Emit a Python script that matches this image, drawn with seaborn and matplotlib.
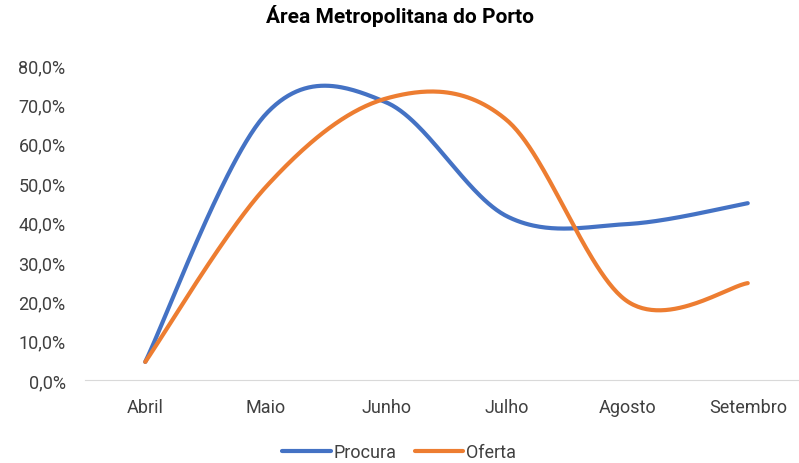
import numpy as np
import pandas as pd
import seaborn as sns
import matplotlib.pyplot as plt
from matplotlib.ticker import FuncFormatter

meses = ["Abril", "Maio", "Junho", "Julho", "Agosto", "Setembro"]
procura = [4.6, 67.5, 70.5, 41.6, 39.6, 44.9]
oferta = [4.6, 49.0, 71.5, 66.0, 20.0, 24.6]

cores = {"Procura": "#4472C4", "Oferta": "#ED7D31"}


def suavizar(valores, n=60):
    # curva suave tipo Excel (Catmull-Rom em Bezier)
    x = np.arange(len(valores), dtype=float)
    y = np.asarray(valores, dtype=float)
    px = np.concatenate([[x[0]], x, [x[-1]]])
    py = np.concatenate([[y[0]], y, [y[-1]]])
    xs, ys = [], []
    t = np.linspace(0, 1, n)
    for i in range(1, len(x)):
        p0 = np.array([px[i - 1], py[i - 1]])
        p1 = np.array([px[i], py[i]])
        p2 = np.array([px[i + 1], py[i + 1]])
        p3 = np.array([px[i + 2], py[i + 2]])
        c1 = p1 + (p2 - p0) / 6
        c2 = p2 - (p3 - p1) / 6
        b = (np.outer((1 - t) ** 3, p1) + np.outer(3 * t * (1 - t) ** 2, c1)
             + np.outer(3 * t ** 2 * (1 - t), c2) + np.outer(t ** 3, p2))
        xs.extend(b[:, 0])
        ys.extend(b[:, 1])
    return xs, ys


linhas = []
for nome, valores in [("Procura", procura), ("Oferta", oferta)]:
    xs, ys = suavizar(valores)
    linhas.append(pd.DataFrame({"x": xs, "y": ys, "serie": nome}))
df = pd.concat(linhas, ignore_index=True)

sns.set_style("white")
plt.rcParams["font.family"] = ["Roboto", "DejaVu Sans"]

fig = plt.figure(figsize=(7.99, 4.64), dpi=100)
ax = fig.add_axes([85 / 799, 1 - 381 / 464, 723 / 799, 315 / 464])

sns.lineplot(data=df, x="x", y="y", hue="serie", palette=cores, sort=False,
             estimator=None, linewidth=3, ax=ax, solid_capstyle="round")

ax.set_xlim(-0.5, 5.5)
ax.set_ylim(0, 80)
ax.set_xticks(range(len(meses)))
ax.set_xticklabels(meses)
ax.set_yticks(np.arange(0, 81, 10))
ax.yaxis.set_major_formatter(FuncFormatter(lambda v, p: f"{v:.1f}%".replace(".", ",")))
ax.tick_params(axis="both", length=0, labelsize=13, labelcolor="#404040")
ax.tick_params(axis="x", pad=13)
ax.tick_params(axis="y", pad=14)
ax.set_xlabel("")
ax.set_ylabel("")
for lado in ["top", "right", "left"]:
    ax.spines[lado].set_visible(False)
ax.spines["bottom"].set_color("#D9D9D9")

fig.suptitle("Área Metropolitana do Porto", x=0.5, y=0.99, fontsize=15,
             fontweight="bold", color="#000000")

ax.legend(loc="center", bbox_to_anchor=(399 / 723 - 85 / 723, -0.23),
          bbox_transform=ax.transAxes, ncol=2, frameon=False, fontsize=13,
          handlelength=2.7, handletextpad=0.15, columnspacing=1.0,
          labelcolor="#404040")

fig.savefig("out.png", dpi=100)
